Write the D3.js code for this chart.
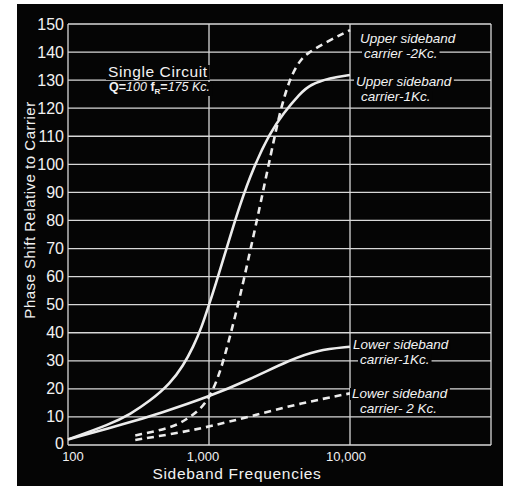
<!DOCTYPE html>
<html>
<head>
<meta charset="utf-8">
<script src="https://cdn.jsdelivr.net/npm/d3@7"></script>
<style>
  body { margin: 0; background: #fff; }
  svg text { fill: #f2f2f2; font-family: "Liberation Sans", sans-serif; }
</style>
</head>
<body>
<div id="chart"></div>
<script>
// values (frequency in cycles, phase in degrees)
const upper1Freq = [100, 199, 275, 382, 529, 657, 774, 888, 1000, 1103, 1335, 1660, 2063, 2705, 3369, 4419, 5200, 7213, 10000];
const upper1Phase = [2, 7.4, 10.9, 15.7, 21.8, 28.3, 35, 42, 50, 56.5, 70.2, 85.8, 98.8, 111.2, 118.2, 125.2, 128.4, 130.8, 131.8];
const upper2Freq = [300, 559, 694, 862, 1016, 1196, 1409, 1660, 1955, 2237, 2570, 2786, 3191, 3760, 4419, 4930, 7213, 10000];
const upper2Phase = [3.4, 6.3, 9.2, 12.5, 17.2, 25.5, 38.6, 52.8, 69, 82.3, 96.8, 105, 119, 131, 137, 139.5, 144.3, 147.8];
const lower1Freq = [100, 261, 449, 1000, 1955, 3750, 5800, 10000];
const lower1Phase = [2, 7.7, 11.3, 17.2, 23.4, 30.3, 33.8, 35];
const lower2Freq = [300, 590, 1000, 2000, 4400, 10000];
const lower2Phase = [1.8, 4.2, 6.5, 10.3, 14.8, 18.4];

const yTicks = d3.range(0, 151, 10);
const xTicks = [100, 1000, 10000];
const xTickLabels = ["100", "1,000", "10,000"];

const width = 514, height = 492;

const svg = d3.select("#chart").append("svg")
  .attr("width", width)
  .attr("height", height);

// black photo panel
svg.append("rect")
  .attr("x", 17).attr("y", 4)
  .attr("width", 486).attr("height", 482)
  .attr("fill", "#050505");

const x = d3.scaleLog().domain([100, 100000]).range([68, 491]);
const y = d3.scaleLinear().domain([0, 150]).range([445, 24]);

let grid = svg.append("g").attr("id", "grid");

// horizontal grid
grid.selectAll(".hline")
  .data(yTicks)
  .enter()
  .append("line")
  .attr("x1", x(100))
  .attr("x2", x(100000))
  .attr("y1", d => y(d))
  .attr("y2", d => y(d))
  .attr("stroke", "#d8d8d8")
  .attr("stroke-width", 1.3);

// vertical grid
grid.selectAll(".vline")
  .data([100, 1000, 10000, 100000])
  .enter()
  .append("line")
  .attr("x1", d => x(d))
  .attr("x2", d => x(d))
  .attr("y1", y(150))
  .attr("y2", y(0))
  .attr("stroke", "#d8d8d8")
  .attr("stroke-width", 1.3);

// y tick labels
svg.selectAll(".ylab")
  .data(yTicks)
  .enter()
  .append("text")
  .attr("text-anchor", "end")
  .attr("x", 64)
  .attr("y", d => y(d) + (d == 0 ? 3.5 : 5.5))
  .attr("font-size", 16)
  .text(d => d);

// x tick labels
svg.selectAll(".xlab")
  .data(xTicks)
  .enter()
  .append("text")
  .attr("text-anchor", "middle")
  .attr("x", (d, i) => x(d) + [5, -6, -4][i])
  .attr("y", 461)
  .attr("font-size", 13)
  .text((d, i) => xTickLabels[i]);

// axis titles
svg.append("text")
  .attr("text-anchor", "middle")
  .attr("x", 237)
  .attr("y", 479)
  .attr("font-size", 15.5)
  .attr("letter-spacing", 0.7)
  .text("Sideband Frequencies");

svg.append("text")
  .attr("text-anchor", "middle")
  .attr("transform", "translate(35,210) rotate(-90)")
  .attr("font-size", 15)
  .attr("letter-spacing", 0.5)
  .text("Phase Shift Relative to Carrier");

// curves
const line = d3.line()
  .x(d => x(d[0]))
  .y(d => y(d[1]))
  .curve(d3.curveBasis);

const series = [
  { f: upper1Freq, p: upper1Phase, dash: null },
  { f: lower1Freq, p: lower1Phase, dash: null },
  { f: upper2Freq, p: upper2Phase, dash: "7,5" },
  { f: lower2Freq, p: lower2Phase, dash: "7,5" }
];

svg.append("g").selectAll("path")
  .data(series)
  .enter()
  .append("path")
  .attr("d", d => line(d.f.map((v, i) => [v, d.p[i]])))
  .attr("fill", "none")
  .attr("stroke", "#ececec")
  .attr("stroke-width", 2.6)
  .attr("stroke-dasharray", d => d.dash);

// annotation boxes (black behind text, cutting the grid)
function label(lines, xs, ys, size, italic) {
  let g = svg.append("g");
  let texts = lines.map((t, i) => {
    return g.append("text")
      .attr("x", xs[i])
      .attr("y", ys[i])
      .attr("font-size", size)
      .attr("font-style", italic ? "italic" : null)
      .text(t);
  });
  texts.forEach(t => {
    let b = t.node().getBBox();
    g.insert("rect", "text")
      .attr("x", b.x - 2)
      .attr("y", b.y + 2)
      .attr("width", b.width + 4)
      .attr("height", b.height - 3)
      .attr("fill", "#050505");
  });
}

label(["Upper sideband", "carrier -2Kc."], [360, 364], [43, 58], 13.5, true);
label(["Upper sideband", "carrier-1Kc."], [356, 361], [86, 101], 13.5, true);
label(["Lower sideband", "carrier-1Kc."], [353, 360], [349, 364], 13.5, true);
label(["Lower sideband", "carrier- 2 Kc."], [352, 360], [398, 413], 13.5, true);

// circuit note
let note = svg.append("g");
let n1 = note.append("text")
  .attr("x", 108).attr("y", 77)
  .attr("font-size", 15.5)
  .attr("letter-spacing", 0.6)
  .text("Single Circuit");
let n2 = note.append("text")
  .attr("x", 109).attr("y", 91)
  .attr("font-size", 12.5)
  .attr("font-weight", 700);
n2.append("tspan").text("Q=");
n2.append("tspan").attr("font-style", "italic").attr("font-weight", 400).text("100  ");
n2.append("tspan").text("f");
n2.append("tspan").attr("font-size", 8).attr("dy", 3).text("R");
n2.append("tspan").attr("dy", -3).text("=");
n2.append("tspan").attr("font-style", "italic").attr("font-weight", 400).text("175 Kc.");
[n1, n2].forEach(t => {
  let b = t.node().getBBox();
  note.insert("rect", "text")
    .attr("x", b.x - 2).attr("y", b.y + 2)
    .attr("width", b.width + 4).attr("height", b.height - 2)
    .attr("fill", "#050505");
});
</script>
</body>
</html>
